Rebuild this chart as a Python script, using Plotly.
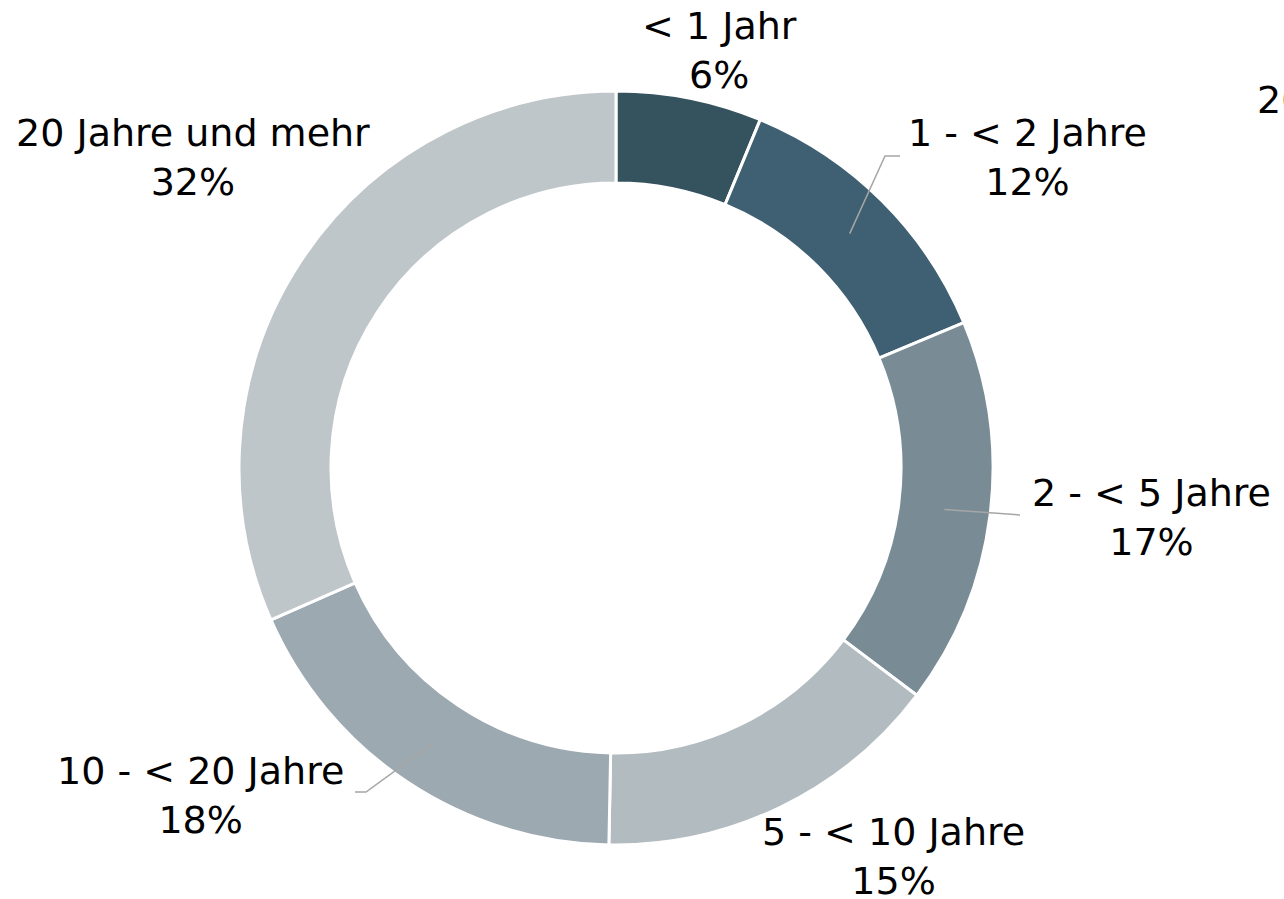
import math
import plotly.graph_objects as go

# ---- data ----
categories = ["< 1 Jahr", "1 - < 2 Jahre", "2 - < 5 Jahre", "5 - < 10 Jahre", "10 - < 20 Jahre", "20 Jahre und mehr"]
shares = [6.25, 12.45, 16.6, 15.0, 18.1, 31.6]
colors = ["#35525F", "#3E6072", "#798C96", "#B2BBC0", "#9DA9B1", "#BFC6C9"]

W, H = 1284, 899
CX, CY, R = 616, 468, 377
HOLE = 0.756
FONT = dict(family="DejaVu Sans, Verdana, sans-serif", size=38, color="#000000")

# label placement (pixel coords of label anchor, xanchor)
label_pos = [
    (720, 50, "center"),
    (906, 157, "left"),
    (1030, 517, "left"),
    (760, 856, "left"),
    (346, 795, "right"),
    (372, 157, "right"),
]
# connector elbows/ends for labels that show a connector
connector_tail = {
    1: [(885, 156), (900, 156)],
    2: [(1020, 515)],
    4: [(366, 792), (355, 792)],
}

fig = go.Figure()
fig.add_trace(go.Pie(
    labels=categories,
    values=shares,
    sort=False,
    direction="clockwise",
    rotation=0,
    hole=HOLE,
    marker=dict(colors=colors, line=dict(color="white", width=3)),
    textinfo="none",
    hoverinfo="label+percent",
    showlegend=False,
    domain=dict(x=[(CX - R) / W, (CX + R) / W], y=[1 - (CY + R) / H, 1 - (CY - R) / H]),
))

def px(x):
    return x / W

def py(y):
    return 1 - y / H

annotations = []
shapes = []
total = sum(shares)
cum = 0
for i, (cat, v) in enumerate(zip(categories, shares)):
    mid = (cum + v / 2) / total * 2 * math.pi
    cum += v
    lx, ly, anchor = label_pos[i]
    annotations.append(dict(
        x=px(lx), y=py(ly), xref="paper", yref="paper",
        text=f"{cat}<br>{round(v / total * 100)}%",
        showarrow=False, xanchor=anchor, yanchor="middle", align="center",
        font=FONT,
    ))
    if i in connector_tail:
        rm = R * (1 + HOLE) / 2
        sx = CX + rm * math.sin(mid)
        sy = CY - rm * math.cos(mid)
        pts = [(sx, sy)] + connector_tail[i]
        path = "M " + " L ".join(f"{px(a)},{py(b)}" for a, b in pts)
        shapes.append(dict(type="path", path=path, xref="paper", yref="paper",
                           line=dict(color="#A6A6A6", width=1.5)))

annotations.append(dict(
    x=px(1255), y=py(100), xref="paper", yref="paper", text="2022",
    showarrow=False, xanchor="left", yanchor="middle", font=FONT,
))

fig.update_layout(
    width=W, height=H,
    margin=dict(l=0, r=0, t=0, b=0),
    paper_bgcolor="white", plot_bgcolor="white",
    annotations=annotations, shapes=shapes,
)

fig.write_html(
    "out.html",
    config={"displayModeBar": False},
    post_script="document.body.style.margin='0';document.body.style.overflow='hidden';",
)
